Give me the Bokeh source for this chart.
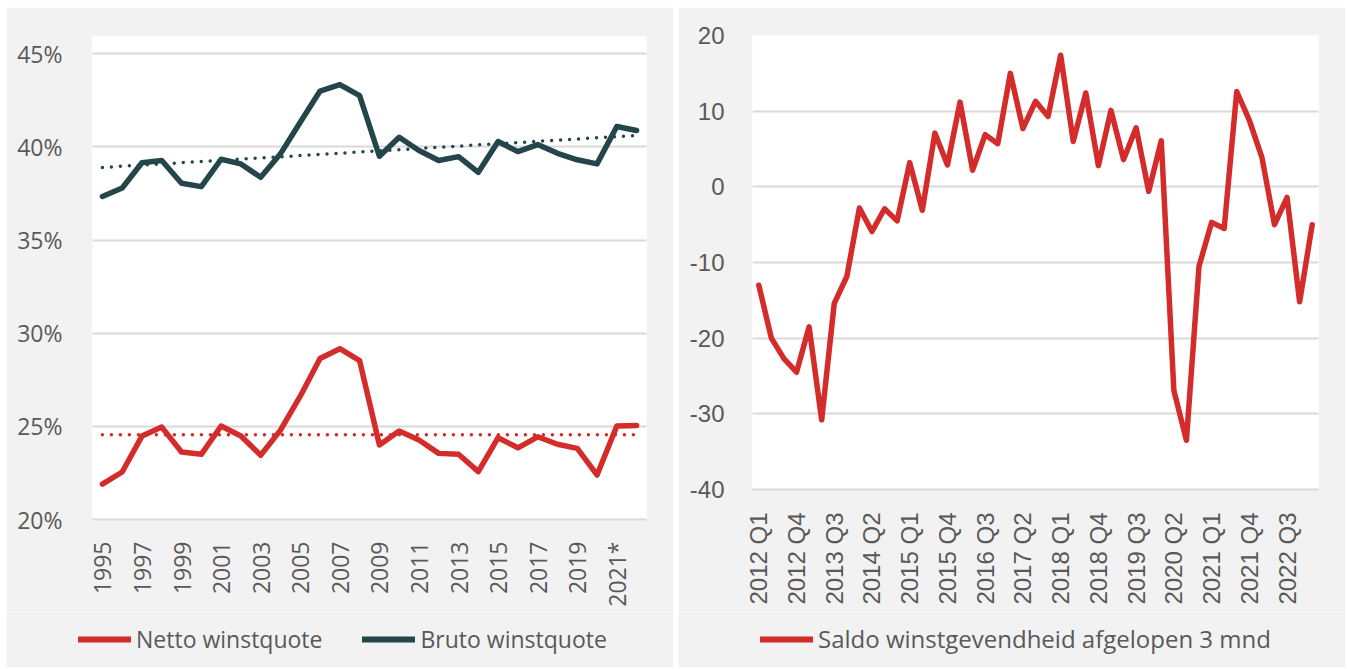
import math
from bokeh.plotting import figure
from bokeh.models import Range1d, FixedTicker, Legend, LegendItem
from bokeh.layouts import row, column
from bokeh.embed import file_html
from bokeh.resources import INLINE

# ---------------- data: left chart ----------------
years = list(range(1995, 2023))
netto = [21.9, 22.55, 24.48, 24.96, 23.62, 23.5, 25.02, 24.48, 23.45, 24.8,
         26.62, 28.64, 29.17, 28.53, 24.0, 24.75, 24.27, 23.55, 23.5, 22.57,
         24.39, 23.85, 24.44, 24.04, 23.82, 22.39, 25.02, 25.05]
bruto = [37.34, 37.8, 39.15, 39.27, 38.05, 37.87, 39.34, 39.09, 38.37, 39.63,
         41.33, 43.0, 43.35, 42.76, 39.5, 40.52, 39.81, 39.27, 39.48, 38.64,
         40.29, 39.75, 40.13, 39.66, 39.31, 39.09, 41.1, 40.88]
trend_years = [1995, 2022]
netto_avg = [24.55, 24.55]
bruto_trend = [38.9, 40.62]
year_ticks = list(range(1995, 2022, 2))
year_labels = {y: (str(y) if y != 2021 else "2021*") for y in year_ticks}
pct_ticks = [20, 25, 30, 35, 40, 45]
pct_labels = {t: f"{t}%" for t in pct_ticks}
left_series = ["Netto winstquote", "Bruto winstquote"]

# ---------------- data: right chart ----------------
quarters = [f"{y} Q{q}" for y in range(2012, 2024) for q in range(1, 5)][:45]
saldo = [-13.0, -20.0, -22.7, -24.5, -18.5, -30.8, -15.4, -11.85, -2.8, -5.9,
         -2.9, -4.5, 3.2, -3.1, 7.1, 2.9, 11.2, 2.2, 6.9, 5.7,
         15.0, 7.7, 11.3, 9.3, 17.4, 6.0, 12.4, 2.8, 10.1, 3.6,
         7.8, -0.6, 6.1, -26.9, -33.5, -10.5, -4.7, -5.5, 12.6, 8.8,
         3.9, -5.0, -1.4, -15.2, -5.0]
q_index = list(range(len(saldo)))
q_ticks = list(range(0, 43, 3))
q_labels = {i: quarters[i] for i in q_ticks}
saldo_ticks = [-40, -30, -20, -10, 0, 10, 20]
saldo_labels = {t: str(t) for t in saldo_ticks}
right_series = ["Saldo winstgevendheid afgelopen 3 mnd"]

RED = "#d42b2b"
DARK = "#24454a"
GRID = "#d9d9d9"
TXT = "#595959"
PANEL = "#f2f2f2"
W = 667
CH = 604
LH = 56


def style_axes(p, yticks, ylabels, xticks, xlabels, font, size, ystand, xstand):
    p.background_fill_color = "white"
    p.border_fill_color = PANEL
    p.outline_line_color = None
    p.xgrid.grid_line_color = None
    p.ygrid.ticker = FixedTicker(ticks=yticks)
    p.ygrid.grid_line_color = GRID
    p.ygrid.grid_line_width = 2
    p.yaxis.ticker = FixedTicker(ticks=yticks)
    p.yaxis.major_label_overrides = ylabels
    p.yaxis.axis_line_color = None
    p.yaxis.major_tick_line_color = None
    p.yaxis.minor_tick_line_color = None
    p.yaxis.major_label_standoff = ystand
    p.xaxis.ticker = FixedTicker(ticks=xticks)
    p.xaxis.major_label_overrides = xlabels
    p.xaxis.major_label_orientation = math.pi / 2
    p.xaxis.axis_line_color = GRID
    p.xaxis.axis_line_width = 2
    p.xaxis.major_tick_line_color = None
    p.xaxis.minor_tick_line_color = None
    p.xaxis.major_label_standoff = xstand
    for ax in (p.xaxis, p.yaxis):
        ax.major_label_text_font = font
        ax.major_label_text_font_size = size
        ax.major_label_text_color = TXT


def legend_fig(labels, colors, xs, ys, x, y, spacing, fsize):
    # a strip below the chart holding only the legend; its key renderers
    # use the series data but lie outside this strip's ranges
    pl = figure(width=W, height=LH, output_backend="svg", toolbar_location=None,
                x_range=Range1d(0, 1), y_range=Range1d(0, 1),
                x_axis_type=None, y_axis_type=None, min_border=0)
    pl.background_fill_color = PANEL
    pl.border_fill_color = PANEL
    pl.outline_line_color = None
    pl.xgrid.grid_line_color = None
    pl.ygrid.grid_line_color = None
    items = []
    for lab, col, yy in zip(labels, colors, ys):
        r = pl.line(xs, yy, line_color=col, line_width=6, line_cap="round")
        items.append(LegendItem(label=lab, renderers=[r]))
    leg = Legend(items=items, orientation="horizontal", location=(x, y),
                 padding=0, margin=0, spacing=spacing, label_standoff=5,
                 glyph_width=53, glyph_height=30, label_height=30,
                 label_text_font="Open Sans", label_text_font_size=fsize,
                 label_text_color=TXT, background_fill_alpha=0,
                 border_line_color=None)
    pl.add_layout(leg, "center")
    return pl


# ---------------- left figure ----------------
p1 = figure(width=W, height=CH, output_backend="svg", toolbar_location=None,
            x_range=Range1d(1994.5, 2022.5), y_range=Range1d(20, 45.93),
            min_border_left=86, min_border_right=27, min_border_top=29,
            min_border_bottom=92)
style_axes(p1, pct_ticks, pct_labels, year_ticks, year_labels,
           "Open Sans", "23px", 24, 16)
p1.line(years, netto, line_color=RED, line_width=5.5, line_join="round", line_cap="round")
p1.line(years, bruto, line_color=DARK, line_width=5.5, line_join="round", line_cap="round")
p1.line(trend_years, netto_avg, line_color=RED, line_width=3.5, line_dash="0 9", line_cap="round")
p1.line(trend_years, bruto_trend, line_color=DARK, line_width=3.5, line_dash="0 9", line_cap="round")
l1 = legend_fig(left_series, [RED, DARK], years, [netto, bruto], 72, 12, 40, "23px")

# ---------------- right figure ----------------
p2 = figure(width=W, height=CH, output_backend="svg", toolbar_location=None,
            x_range=Range1d(-0.5, 44.5), y_range=Range1d(-40, 20),
            min_border_left=74, min_border_right=27, min_border_top=28,
            min_border_bottom=122)
style_axes(p2, saldo_ticks, saldo_labels, q_ticks, q_labels,
           "Liberation Sans", "24px", 22, 17)
p2.line(q_index, saldo, line_color=RED, line_width=5.5, line_join="round", line_cap="round")
l2 = legend_fig(right_series, [RED], q_index, [saldo], 82, 12, 40, "24px")

# each figure wrapped on its own so that frames are not aligned to each other
left = column(row(p1), row(l1), spacing=0)
right = column(row(p2), row(l2), spacing=0)
layout = row(left, right, spacing=5, margin=(7, 0, 0, 6))
open("out.html", "w").write(file_html(layout, INLINE))
